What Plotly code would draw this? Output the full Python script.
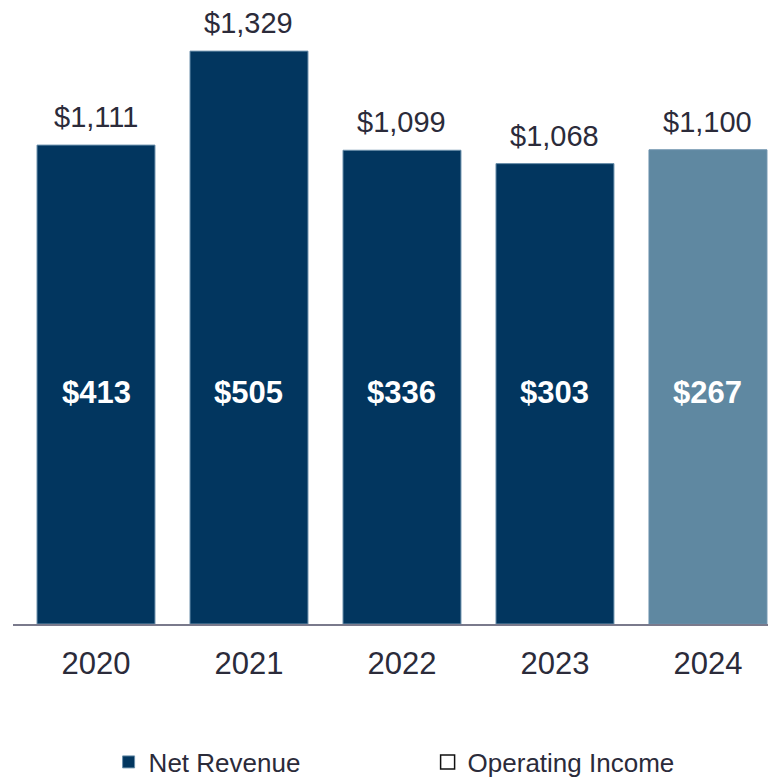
import plotly.graph_objects as go

years = ["2020", "2021", "2022", "2023", "2024"]
net_revenue = [1111, 1329, 1099, 1068, 1100]
operating_income = [413, 505, 336, 303, 267]
bar_colors = ["#02365f", "#02365f", "#02365f", "#02365f", "#5f88a1"]

FONT = "Liberation Sans, Arial, sans-serif"
TXT = "#2b2b3a"
x_idx = list(range(len(years)))

fig = go.Figure()
fig.add_trace(go.Bar(
    x=x_idx, y=net_revenue, name="Net Revenue", width=0.771,
    marker=dict(color=bar_colors, line=dict(color="#6a8fab", width=1)),
    showlegend=True,
))
fig.add_trace(go.Scatter(
    x=[None], y=[None], mode="markers", name="Operating Income",
    marker=dict(symbol="square-open", size=14, color="#111111", line=dict(width=1.5, color="#111111")),
))

ann = []
for i, (v, oi) in enumerate(zip(net_revenue, operating_income)):
    ann.append(dict(x=i, y=v, xref="x", yref="y", text=f"${v:,}", showarrow=False,
                    yanchor="bottom", yshift=10, font=dict(size=29, color=TXT, family=FONT)))
    ann.append(dict(x=i, y=0.376, xref="x", yref="paper", text=f"<b>${oi}</b>", showarrow=False,
                    yanchor="middle", font=dict(size=31, color="white", family=FONT)))

fig.update_layout(
    width=776, height=777,
    margin=dict(l=5, r=0, t=0, b=161, autoexpand=False),
    plot_bgcolor="white", paper_bgcolor="white",
    font=dict(family=FONT, color=TXT),
    annotations=ann,
    xaxis=dict(range=[-0.5425, 4.497], tickvals=x_idx, ticktext=years,
               showline=True, linecolor="#7a7a8c", linewidth=2, showgrid=False,
               zeroline=False, tickfont=dict(size=31, color=TXT), ticks="",
               ticklabelstandoff=11),
    yaxis=dict(range=[0, 1429], visible=False, showgrid=False, zeroline=False),
    legend=dict(orientation="h", x=0.124, xanchor="left", y=-0.224, yanchor="middle",
                entrywidth=274, entrywidthmode="pixels", itemwidth=30,
                font=dict(size=26, color=TXT), traceorder="normal"),
    bargap=0.23,
)

fig.write_html("out.html")
